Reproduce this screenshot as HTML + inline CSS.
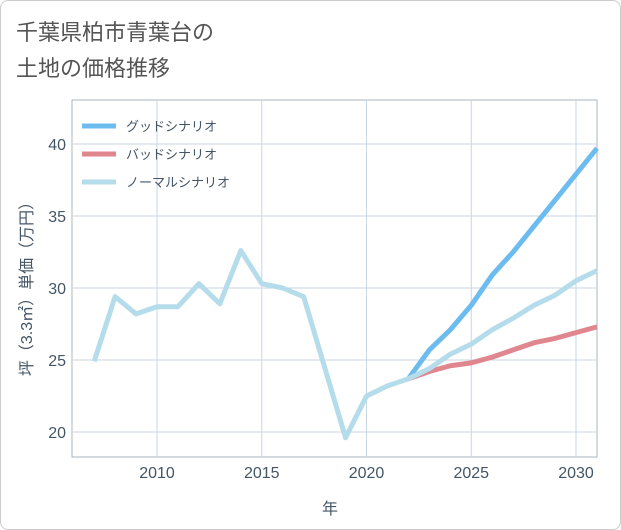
<!DOCTYPE html>
<html><head><meta charset="utf-8"><style>
body{margin:0;background:#fff;font-family:"Liberation Sans","Noto Sans CJK JP",sans-serif}
#card{position:absolute;left:0;top:0;width:619px;height:528px;border:1px solid #ccc;border-radius:8px;background:#fff}
</style></head><body>
<div id="card">
<svg width="621" height="530" id="svg" style="position:absolute;left:-1px;top:-1px">
<text x="16" y="40" font-size="22" fill="#555">千葉県柏市青葉台の</text>
<text x="16" y="76" font-size="22" fill="#555">土地の価格推移</text>
<g id="grid"></g><g id="series"></g>
<text x="330" y="514" font-size="16" fill="#445566" text-anchor="middle">年</text>
<text transform="translate(32,285) rotate(-90)" font-size="16" fill="#445566" text-anchor="middle">坪（3.3㎡）単価（万円）</text>
<g id="legend"></g>
</svg></div>
<script>
const years=[2007,2008,2009,2010,2011,2012,2013,2014,2015,2016,2017,2018,2019,2020,2021,2022];
const histValues=[24.9,29.4,28.2,28.7,28.7,30.3,28.9,32.6,30.3,30.0,29.4,24.5,19.6,22.5,23.2,23.7];
const futYears=[2022,2023,2024,2025,2026,2027,2028,2029,2030,2031];
const goodValues=[23.7,25.7,27.1,28.8,30.9,32.5,34.3,36.1,37.9,39.7];
const badValues=[23.7,24.2,24.6,24.8,25.2,25.7,26.2,26.5,26.9,27.3];
const normalValues=[23.7,24.4,25.4,26.1,27.1,27.9,28.8,29.5,30.5,31.2];
const xTicks=[2010,2015,2020,2025,2030];
const yTicks=[20,25,30,35,40];
const L=72,R=597,T=100,B=457;
const xs=y=>157+(y-2010)*20.95;
const ys=v=>432-(v-20)*14.4;
const NS="http://www.w3.org/2000/svg";
function mk(t,a,p){const e=document.createElementNS(NS,t);for(const k in a)e.setAttribute(k,a[k]);p.appendChild(e);return e;}
const g=document.getElementById('grid');
const frame=mk('rect',{x:L,y:T,width:R-L,height:B-T,fill:'none',stroke:'#aab4bd'},g);


xTicks.forEach(t=>{const l=mk('line',{x1:xs(t),x2:xs(t),y1:T,y2:B,stroke:'#c8d6e2'},g);


const tx=mk('text',{x:xs(t),y:478,'font-size':16,fill:'#445566','text-anchor':'middle'},g);tx.textContent=t;

});
yTicks.forEach(t=>{const l=mk('line',{x1:L,x2:R,y1:ys(t),y2:ys(t),stroke:'#c8d6e2'},g);


const tx=mk('text',{x:66,y:ys(t)+6,'font-size':16,fill:'#445566','text-anchor':'end'},g);tx.textContent=t;

});
const s=document.getElementById('series');
function line(xa,va,col,name){const p=mk('polyline',{points:xa.map((x,i)=>xs(x)+','+ys(va[i])).join(' '),fill:'none',stroke:col,'stroke-width':5,'stroke-linejoin':'round'},s);

}
line(futYears,goodValues,'#6cbcf0','good-scenario-line');
line(futYears,badValues,'#e0868e','bad-scenario-line');
line(futYears,normalValues,'#b5dcea','normal-scenario-line');
line(years,histValues,'#b5dcea','historical-line');
const lg=document.getElementById('legend');
[['グッドシナリオ','#6cbcf0'],['バッドシナリオ','#e0868e'],['ノーマルシナリオ','#b5dcea']].forEach((d,i)=>{
const y=126+i*28;
const l=mk('line',{x1:82,x2:116,y1:y,y2:y,stroke:d[1],'stroke-width':5},lg);


const t=mk('text',{x:126,y:y+5,'font-size':13,fill:'#445566'},lg);t.textContent=d[0];

});
</script></body></html>
